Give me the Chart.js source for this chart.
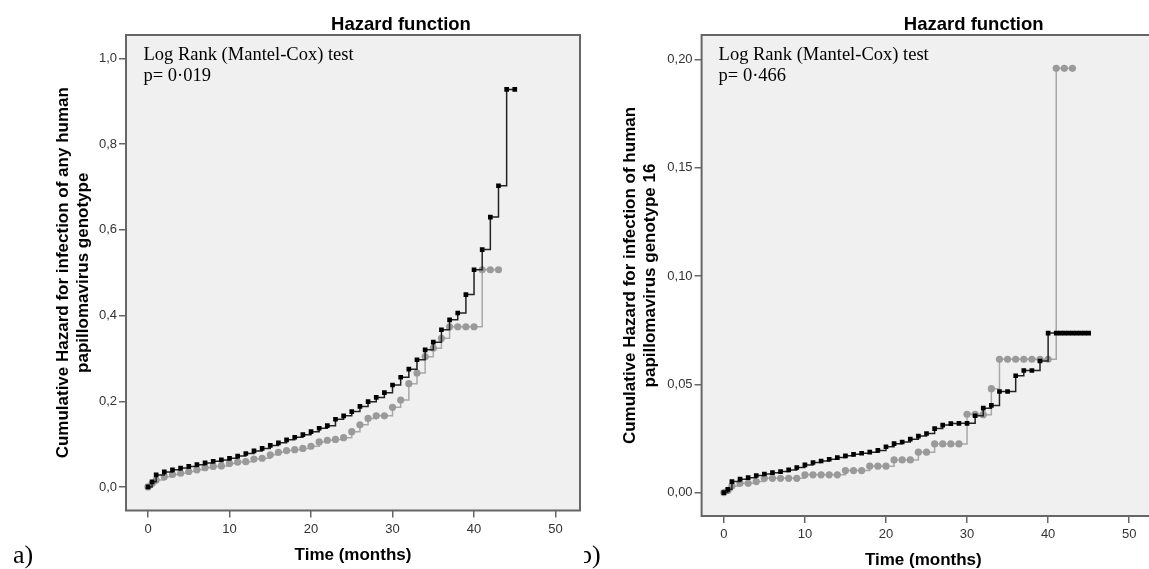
<!DOCTYPE html>
<html>
<head>
<meta charset="utf-8">
<script src="https://cdn.jsdelivr.net/npm/chart.js@4/dist/chart.umd.min.js"></script>
<style>
  html, body { margin: 0; padding: 0; background: #fff; overflow: hidden; }
  #wrapA { position: absolute; left: 0; top: 0; width: 584px; height: 580px; }
  #wrapB { position: absolute; left: 584px; top: 0; width: 565px; height: 580px; }
</style>
</head>
<body>
<div id="wrapA"><canvas id="chartA" width="584" height="580"></canvas></div>
<div id="wrapB"><canvas id="chartB" width="565" height="580"></canvas></div>
<script>
// ---- data ----
// a) any HPV genotype
var timesA1 = [0, 0.5, 1, 2, 3, 4, 5, 6, 7, 8, 9, 10, 11, 12, 13, 14, 15, 16, 17, 18, 19, 20, 21, 22, 23, 24, 25, 26, 27, 28, 29, 30, 31, 32, 33, 34, 35, 36, 37, 38, 39, 40, 41, 42, 43, 44, 45];
var hazardA1 = [0, 0.012, 0.028, 0.035, 0.040, 0.044, 0.048, 0.052, 0.056, 0.060, 0.063, 0.067, 0.072, 0.078, 0.084, 0.090, 0.097, 0.103, 0.110, 0.116, 0.122, 0.129, 0.137, 0.143, 0.158, 0.166, 0.176, 0.188, 0.199, 0.209, 0.220, 0.238, 0.256, 0.275, 0.297, 0.320, 0.338, 0.367, 0.390, 0.406, 0.449, 0.507, 0.554, 0.630, 0.703, 0.928, 0.928];
var timesA2 = [0, 0.5, 1, 2, 3, 4, 5, 6, 7, 8, 9, 10, 11, 12, 13, 14, 15, 16, 17, 18, 19, 20, 21, 22, 23, 24, 25, 26, 27, 28, 29, 30, 31, 32, 33, 34, 35, 36, 37, 38, 39, 40, 41, 42, 43];
var hazardA2 = [0, 0.008, 0.016, 0.024, 0.029, 0.032, 0.036, 0.040, 0.045, 0.048, 0.049, 0.055, 0.058, 0.059, 0.065, 0.067, 0.075, 0.081, 0.085, 0.087, 0.090, 0.095, 0.105, 0.109, 0.111, 0.115, 0.129, 0.145, 0.160, 0.166, 0.166, 0.186, 0.203, 0.241, 0.266, 0.304, 0.324, 0.347, 0.374, 0.374, 0.374, 0.374, 0.507, 0.507, 0.507];
var yTicksA = [0, 0.2, 0.4, 0.6, 0.8, 1.0];

// b) HPV genotype 16
var timesB1 = [0, 0.5, 1, 2, 3, 4, 5, 6, 7, 8, 9, 10, 11, 12, 13, 14, 15, 16, 17, 18, 19, 20, 21, 22, 23, 24, 25, 26, 27, 28, 29, 30, 31, 32, 33, 34, 35, 36, 37, 38, 39, 40, 41, 41.5, 42, 42.5, 43, 43.5, 44, 44.5, 45];
var hazardB1 = [0, 0.0015, 0.0051, 0.0062, 0.0069, 0.0079, 0.0086, 0.0092, 0.0097, 0.0105, 0.0116, 0.0128, 0.0139, 0.0146, 0.0154, 0.0162, 0.0170, 0.0177, 0.0182, 0.0187, 0.0195, 0.0212, 0.0226, 0.0234, 0.0247, 0.0261, 0.0273, 0.0296, 0.0312, 0.0319, 0.0320, 0.0320, 0.0355, 0.0390, 0.0403, 0.0467, 0.0467, 0.0540, 0.0564, 0.0564, 0.0608, 0.0737, 0.0737, 0.0737, 0.0737, 0.0737, 0.0737, 0.0737, 0.0737, 0.0737, 0.0737];
var timesB2 = [0, 0.5, 1, 2, 3, 4, 5, 6, 7, 8, 9, 10, 11, 12, 13, 14, 15, 16, 17, 18, 19, 20, 21, 22, 23, 24, 25, 26, 27, 28, 29, 30, 31, 32, 33, 34, 35, 36, 37, 38, 39, 40, 41, 42, 43];
var hazardB2 = [0, 0.001, 0.0031, 0.0043, 0.0043, 0.0051, 0.0066, 0.0066, 0.0066, 0.0066, 0.0066, 0.0082, 0.0082, 0.0082, 0.0082, 0.0082, 0.0102, 0.0102, 0.0102, 0.0122, 0.0122, 0.0122, 0.0151, 0.0151, 0.0151, 0.0187, 0.0187, 0.0225, 0.0225, 0.0225, 0.0225, 0.0362, 0.0362, 0.0360, 0.0480, 0.0616, 0.0616, 0.0616, 0.0616, 0.0616, 0.0616, 0.0616, 0.196, 0.196, 0.196];
var yTicksB = [0, 0.05, 0.10, 0.15, 0.20];

var xTicks = [0, 10, 20, 30, 40, 50];

function toPoints(xs, ys) {
    return xs.map(function (x, i) { return { x: x, y: ys[i] }; });
}

var sans = '"Liberation Sans", Arial, sans-serif';
var serif = '"Liberation Serif", "Times New Roman", serif';

// background, frame and the loose texts of each panel
var panelDecor = {
    id: 'panelDecor',
    beforeDraw: function (chart, args, o) {
        var ctx = chart.ctx, a = chart.chartArea;
        ctx.save();
        ctx.fillStyle = '#f0f0f0';
        ctx.fillRect(a.left, a.top, (o.openRight ? chart.width + 10 : a.right) - a.left, a.bottom - a.top);
        ctx.restore();
    },
    afterDraw: function (chart, args, o) {
        var ctx = chart.ctx, a = chart.chartArea;
        ctx.save();
        ctx.strokeStyle = '#666';
        ctx.lineWidth = 2;
        var r = o.openRight ? chart.width + 10 : a.right;
        ctx.strokeRect(a.left, a.top, r - a.left, a.bottom - a.top);

        ctx.fillStyle = '#000';
        ctx.textBaseline = 'alphabetic';
        ctx.font = 'bold 18.5px ' + sans;
        ctx.textAlign = 'center';
        ctx.fillText('Hazard function', o.titleX, 30);

        ctx.textAlign = 'left';
        ctx.font = '18.5px ' + serif;
        ctx.fillText('Log Rank (Mantel-Cox) test', o.noteX, 59.5);
        ctx.fillText(o.pText, o.noteX, 81);

        ctx.font = '26px ' + serif;
        ctx.fillText(o.panel, o.panelX, 563);
        ctx.restore();
    }
};

function makeChart(id, cfg) {
    return new Chart(document.getElementById(id).getContext('2d'), {
        type: 'line',
        data: {
            datasets: [{
                data: toPoints(cfg.t1, cfg.h1),
                borderColor: '#222',
                borderWidth: 1.5,
                stepped: true,
                pointStyle: 'rect',
                pointRadius: 3.3,
                pointBackgroundColor: '#000',
                pointBorderWidth: 0
            }, {
                data: toPoints(cfg.t2, cfg.h2),
                borderColor: '#a8a8a8',
                borderWidth: 1.5,
                stepped: true,
                pointStyle: 'circle',
                pointRadius: 3.6,
                pointBackgroundColor: '#9a9a9a',
                pointBorderWidth: 0
            }]
        },
        options: {
            responsive: false,
            animation: false,
            layout: { padding: { left: 0, right: cfg.padRight, top: 35, bottom: 0 } },
            scales: {
                x: {
                    type: 'linear',
                    min: cfg.xMin,
                    max: cfg.xMax,
                    afterBuildTicks: function (s) { s.ticks = xTicks.map(function (v) { return { value: v }; }); },
                    afterFit: function (s) { s.height = cfg.xHeight; },
                    border: { display: false },
                    grid: { drawOnChartArea: false, drawTicks: true, tickLength: 7, color: '#666', lineWidth: 1.5 },
                    ticks: { color: '#333', font: { family: sans, size: 13 }, padding: 4, maxRotation: 0 },
                    title: {
                        display: true,
                        text: 'Time (months)',
                        color: '#000',
                        font: { family: sans, size: 17, weight: 'bold', lineHeight: '20px' },
                        padding: { top: 0, bottom: cfg.xTitlePad }
                    }
                },
                y: {
                    min: cfg.yMin,
                    max: cfg.yMax,
                    afterBuildTicks: function (s) { s.ticks = cfg.yTicks.map(function (v) { return { value: v }; }); },
                    afterFit: function (s) { s.width = cfg.yWidth; },
                    border: { display: false },
                    grid: { drawOnChartArea: false, drawTicks: true, tickLength: 7, color: '#666', lineWidth: 1.5 },
                    ticks: {
                        color: '#333',
                        font: { family: sans, size: 13 },
                        padding: 2,
                        callback: function (v) { return v.toFixed(cfg.decimals).replace('.', ','); }
                    },
                    title: {
                        display: true,
                        text: cfg.yTitle,
                        color: '#000',
                        font: { family: sans, size: 17, weight: 'bold', lineHeight: '20px' },
                        padding: { top: cfg.yTitlePad, bottom: 0 }
                    }
                }
            },
            plugins: {
                legend: { display: false },
                tooltip: { enabled: false },
                panelDecor: cfg.decor
            }
        },
        plugins: [panelDecor]
    });
}

makeChart('chartA', {
    t1: timesA1, h1: hazardA1, t2: timesA2, h2: hazardA2,
    yTicks: yTicksA, decimals: 1,
    xMin: -2.7, xMax: 53.0, yMin: -0.055, yMax: 1.055,
    padRight: 1, yWidth: 126, xHeight: 69.5, xTitlePad: 15, yTitlePad: 53,
    yTitle: ['Cumulative Hazard for infection of any human', 'papillomavirus genotype'],
    decor: { titleX: 401, noteX: 143.5, pText: 'p= 0\u00b7019', panel: 'a)', panelX: 13, openRight: false }
});

makeChart('chartB', {
    t1: timesB1, h1: hazardB1, t2: timesB2, h2: hazardB2,
    yTicks: yTicksB, decimals: 2,
    xMin: -2.74, xMax: 51.95, yMin: -0.0108, yMax: 0.2114,
    padRight: 0, yWidth: 117.6, xHeight: 64, xTitlePad: 9.4, yTitlePad: 36.8,
    yTitle: ['Cumulative Hazard for infection of human', 'papillomavirus genotype 16'],
    decor: { titleX: 389.7, noteX: 134.6, pText: 'p= 0\u00b7466', panel: 'b)', panelX: -5, openRight: true }
});
</script>
</body>
</html>
